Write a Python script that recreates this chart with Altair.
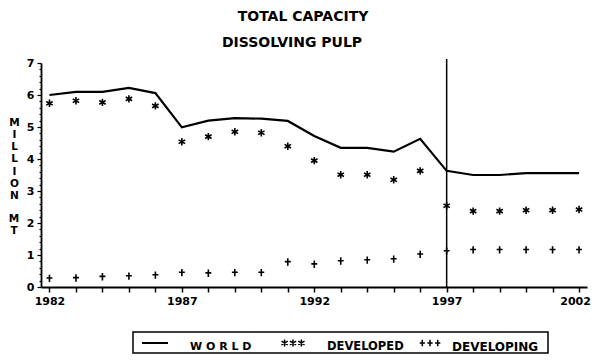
import altair as alt
import pandas as pd

# ---- data ----
years = list(range(1982, 2003))
world = [6.00, 6.10, 6.10, 6.22, 6.06, 4.99, 5.20, 5.28, 5.26, 5.19, 4.72,
         4.35, 4.35, 4.23, 4.63, 3.63, 3.50, 3.50, 3.56, 3.56, 3.56]
developed = [5.74, 5.82, 5.77, 5.88, 5.66, 4.54, 4.70, 4.85, 4.82, 4.40, 3.95,
             3.51, 3.51, 3.35, 3.63, 2.54, 2.37, 2.37, 2.40, 2.40, 2.42]
developing = [0.27, 0.28, 0.32, 0.34, 0.37, 0.45, 0.43, 0.45, 0.45, 0.78, 0.71,
              0.81, 0.84, 0.87, 1.02, 1.12, 1.16, 1.16, 1.16, 1.16, 1.16]
major_years = [1982, 1987, 1992, 1997, 2002]
divider_year = 1997
title_lines = ["TOTAL CAPACITY", "DISSOLVING PULP"]
y_title_1 = ["M", "I", "L", "L", "I", "O", "N"]
y_title_2 = ["M", "T"]
legend_labels = ["W O R L D", "DEVELOPED", "DEVELOPING"]

df = pd.DataFrame({"year": years, "world": world,
                   "developed": developed, "developing": developing})

FONT = "DejaVu Sans"
ASTER = "M0,-1L0,1M-0.87,-0.5L0.87,0.5M-0.87,0.5L0.87,-0.5"
PLUS = "M-0.8,-0.1L0.8,-0.1M0,-1L0,1"


def triple(kind):
    parts = []
    r = 0.3
    for cx in (-0.7, 0.0, 0.7):
        if kind == "aster":
            parts.append(f"M{cx},{-r}L{cx},{r}")
            parts.append(f"M{cx - 0.87 * r},{-0.5 * r}L{cx + 0.87 * r},{0.5 * r}")
            parts.append(f"M{cx - 0.87 * r},{0.5 * r}L{cx + 0.87 * r},{-0.5 * r}")
        else:
            parts.append(f"M{cx - 0.8 * r},0L{cx + 0.8 * r},0")
            parts.append(f"M{cx},{-r}L{cx},{r}")
    return "".join(parts)


yvals = [round(i * 0.2, 1) for i in range(36)]
major_list = ",".join(str(y) for y in major_years)
major_test_x = f"indexof([{major_list}], datum.value) >= 0"
major_test_y = "abs(datum.value - round(datum.value)) < 0.001"

x_enc = alt.X(
    "year:Q",
    scale=alt.Scale(domain=[1981.68, 2002.3], nice=False, zero=False),
    axis=alt.Axis(
        values=years, tickCount=200,
        labelExpr=f"{major_test_x} ? format(datum.value, 'd') : ''",
        labelFontSize=alt.condition(major_test_x, alt.value(11), alt.value(0)),
        labelOffset=alt.condition("datum.value == 2002", alt.value(-4), alt.value(0)),
        labelOverlap=False, labelFlush=False, labelBound=False,
        tickSize=5, tickWidth=1.5,
        labelPadding=3, title=None, grid=False,
    ),
)
y_scale = alt.Scale(domain=[0, 7], nice=False, zero=True)
y_axis = alt.Axis(
    values=yvals, tickCount=200,
    labelExpr=f"{major_test_y} ? format(datum.value, 'd') : ''",
    labelFontSize=alt.condition(major_test_y, alt.value(11), alt.value(0)),
    labelOverlap=False, labelFlush=False, labelBound=False,
    tickSize=alt.condition(major_test_y, alt.value(4), alt.value(2)),
    tickWidth=1.2, labelPadding=3, grid=False,
    title=y_title_1, titleAngle=0, titleX=-27, titleY=54,
    titleBaseline="top", titleAlign="center", titleFontSize=10.5,
    titleFontWeight="bold", titleLineHeight=12.3, titleFont=FONT,
    titleColor="black",
)

base = alt.Chart(df)
line = base.mark_line(color="black", strokeWidth=2.2).encode(
    x=x_enc, y=alt.Y("world:Q", scale=y_scale, axis=y_axis))
dev = base.mark_point(shape=ASTER, size=55, strokeWidth=1.6, filled=False,
                      color="black", opacity=1).encode(
    x="year:Q", y="developed:Q")
devg = base.mark_point(shape=PLUS, size=55, strokeWidth=1.6, filled=False,
                       color="black", opacity=1).encode(
    x="year:Q", y="developing:Q")

one = alt.Data(values=[{}])
rule = alt.Chart(one).mark_rule(color="black", strokeWidth=1.5).encode(
    x=alt.datum(divider_year), y=alt.value(-4), y2=alt.value(224))

# second part of the stacked y title (after the gap)
ytitle2 = alt.Chart(one).mark_text(font=FONT, fontSize=10.5, fontWeight="bold",
                                   align="center", baseline="top", lineHeight=12,
                                   color="black").encode(
    x=alt.value(-27), y=alt.value(151), text=alt.value(y_title_2))

t1 = alt.Chart(one).mark_text(font=FONT, fontSize=14, fontWeight="bold",
                              align="center", color="black").encode(
    x=alt.value(262), y=alt.value(-46), text=alt.value(title_lines[0]))
t2 = alt.Chart(one).mark_text(font=FONT, fontSize=14, fontWeight="bold",
                              align="center", color="black").encode(
    x=alt.value(251), y=alt.value(-20), text=alt.value(title_lines[1]))

# legend box
lbox = alt.Chart(one).mark_rect(fillOpacity=0, stroke="black", strokeWidth=1.5).encode(
    x=alt.value(92), x2=alt.value(507), y=alt.value(269), y2=alt.value(290))
lline = alt.Chart(one).mark_rule(color="black", strokeWidth=2).encode(
    x=alt.value(101), x2=alt.value(127), y=alt.value(280))
lsym1 = alt.Chart(one).mark_point(shape=triple("aster"), size=576, strokeWidth=1.5,
                                  filled=False, color="black", opacity=1).encode(
    x=alt.value(252), y=alt.value(280))
lsym2 = alt.Chart(one).mark_point(shape=triple("plus"), size=484, strokeWidth=1.5,
                                  filled=False, color="black", opacity=1).encode(
    x=alt.value(389), y=alt.value(280))


def ltext(txt, xpos, size=12):
    return alt.Chart(one).mark_text(font=FONT, fontSize=size, fontWeight="bold",
                                    align="left", color="black").encode(
        x=alt.value(xpos), y=alt.value(284), text=alt.value(txt))


chart = alt.layer(
    line, dev, devg, rule, ytitle2, t1, t2, lbox, lline, lsym1, lsym2,
    ltext(legend_labels[0], 149, 11), ltext(legend_labels[1], 286, 11.5),
    ltext(legend_labels[2], 411, 12),
).properties(
    width=546, height=224,
    autosize=alt.AutoSizeParams(type="none"),
    padding={"left": 33, "top": 55, "right": 4, "bottom": 67},
    background="white",
).configure_view(stroke=None).configure_axis(
    domainColor="black", domainWidth=1.8, tickColor="black",
    labelFont=FONT, labelFontSize=11, labelFontWeight="bold", labelColor="black",
    labelOverlap=False,
)

chart.save("out.html", embed_options={"renderer": "svg", "actions": False})
